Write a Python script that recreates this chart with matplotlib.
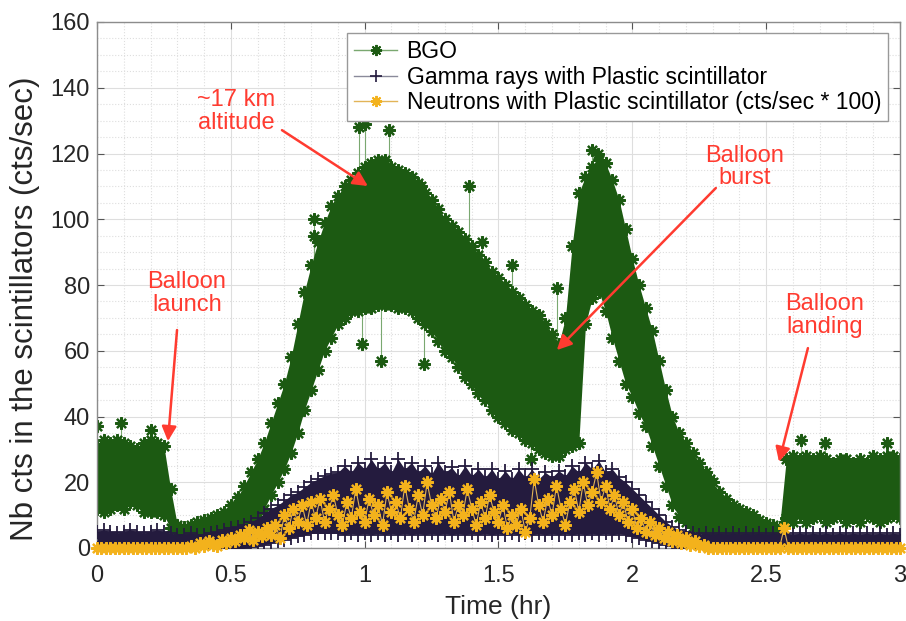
import numpy as np
import matplotlib
matplotlib.use("Agg")
import matplotlib.pyplot as plt
from matplotlib.lines import Line2D

plt.rcParams['font.family'] = ['Liberation Sans', 'DejaVu Sans']

# time grid of the envelopes (hr), one sample every 0.025 hr
t_env = np.round(np.arange(0, 3.0001, 0.025), 3)

# BGO: upper / lower edge of the point cloud (cts/sec)
bgo_hi = [31, 33, 32, 33, 32, 31, 30, 32, 33, 32, 31, 18,
          7, 6.5, 7, 8, 8.5, 9, 10, 11, 13, 15.5, 19, 23,
          27, 32, 38, 44, 50, 58, 68, 78, 86, 93, 99, 104,
          107, 110, 112, 114, 116, 117, 118, 118, 116, 115, 114, 113,
          111, 108, 106, 103, 100, 98, 96, 94, 92, 89, 87, 84,
          82, 80, 78, 76, 74, 72, 71, 68, 65, 62, 70, 92,
          108, 113, 116, 118, 117, 112, 106, 97, 88, 80, 73, 66,
          57, 48, 40, 35, 32, 29, 26, 23, 20, 17, 15, 13,
          12, 11, 10, 8.5, 7.5, 7, 6.5, 27, 28, 27, 28, 27,
          28, 27, 26, 27, 27, 26, 27, 26, 28, 27, 28, 28, 27]
bgo_lo = [12, 11, 12, 13, 12, 14, 13, 11, 11, 11, 10, 6,
          3.5, 3, 3, 3, 3, 3.5, 3.5, 4, 4.5, 5.5, 6.5, 8,
          9.5, 12, 16, 20, 24, 29, 35, 42, 48, 54, 60, 64,
          68, 70, 72, 72, 73, 73, 74, 74, 74, 73, 73, 72,
          70, 68, 66, 63, 60, 58, 55, 52, 50, 47, 45, 42,
          40, 38, 36, 35, 33, 32, 30, 29, 28, 28, 30, 31,
          32, 68, 76, 78, 72, 64, 57, 50, 46, 41, 37, 31,
          25, 19, 13, 9.5, 8, 6.5, 5.5, 5, 4.5, 4.5, 4, 4,
          4, 4, 3.5, 3.5, 3.5, 3.5, 3.5, 9, 8, 10, 8, 9,
          10, 8, 9, 10, 8, 9, 8, 10, 9, 8, 9, 10, 9]

# isolated BGO points sticking out of the cloud
spike_t = [0.0, 0.09, 0.2, 0.81, 0.81, 0.98, 1.0, 1.09, 1.21, 1.39, 1.44, 1.55,
           1.72, 1.85, 1.87, 0.99, 1.06, 1.22, 1.62, 2.63, 2.72, 2.95, 2.29]
spike_y = [37, 38, 36, 100, 95, 128, 129, 127, 110, 110, 93, 86,
           79, 121, 120, 62, 57, 56, 27, 33, 32, 32, 21]
spike_base = [31, 33, 33, 86, 86, 114, 116, 117, 111, 92, 87, 78,
              62, 116, 117, 72, 74, 70, 33, 27, 28, 27, 20]

# Gamma rays with plastic scintillator: upper / lower edge of the cloud
gam_hi = [5, 5.5, 5, 4.5, 5, 5.5, 5, 4.5, 5, 5.5, 5, 4.5,
          4, 4, 4.5, 4, 4, 4.5, 5, 5.5, 6, 6.5, 7, 8,
          9, 10.5, 12, 13, 14.5, 16, 17, 18.5, 20, 21, 22, 22.5,
          23, 25, 23, 26, 24, 27, 24, 26, 23, 27, 24, 26,
          23, 25, 22.5, 26, 23, 24.5, 22, 25, 22, 24, 21.5, 24,
          21, 23.5, 21, 24, 21.5, 24, 21, 23, 21.5, 23.5, 22, 25,
          23, 26, 24, 26.5, 23, 24, 21.5, 20, 18, 16, 14, 12,
          10, 8, 6.5, 5.5, 5, 4.5, 4, 4.5, 4, 4.5, 4, 4.5,
          4, 4.5, 4, 4.5, 4, 4.5, 4, 4.5, 4, 4.5, 4, 4.5,
          4, 4.5, 4, 4.5, 4, 4.5, 4, 4.5, 4, 4.5, 4, 4.5, 4]
gam_lo = [0, 0, 0, 0, 0, 0, 0, 0, 0, 0, 0, 0,
          0, 0, 0, 0, 0, 0, 0, 0, 0, 0, 0, 0.3,
          0.5, 1, 1.5, 2, 2.5, 3, 3.5, 4, 4.5, 4.5, 4.5, 4.5,
          4.5, 4, 4.5, 4, 4.5, 4, 4.5, 4, 4.5, 4, 4.5, 4,
          4.5, 4, 4.5, 4, 4.5, 4, 4.5, 4, 4.5, 4, 4.5, 4,
          4.5, 4, 4.5, 4, 4.5, 4, 4.5, 4, 4.5, 4, 4.5, 4,
          4.5, 4, 4.5, 4, 4.5, 4, 4.5, 4, 3.5, 3, 2.5, 2,
          1.5, 1, 0.5, 0, 0, 0, 0, 0, 0, 0, 0, 0,
          0, 0, 0, 0, 0, 0, 0, 0, 0, 0, 0, 0,
          0, 0, 0, 0, 0, 0, 0, 0, 0, 0, 0, 0, 0]

# Neutrons with plastic scintillator (cts/sec * 100), one value per minute
neu_min = np.arange(0, 181)
neu_val = [0, 0, 0, 0, 0, 0, 0, 0, 0, 0, 0, 0, 0, 0, 0, 0, 0, 0, 0, 0, 0,
           0.5, 0, 1.5, 0.5, 2, 1, 0.5, 2.5, 1.5, 3,
           2, 4, 3, 5.5, 2.5, 5, 3.5, 6, 4, 7, 3, 10, 6, 12, 8, 13, 7, 14, 9, 15,
           8, 12, 16, 10, 7, 14, 9, 18, 11, 8, 15, 10, 13, 7, 17, 11, 14, 9, 19, 12,
           8, 16, 10, 20, 13, 9, 15, 11, 17, 8, 13, 10, 18, 12, 7, 14, 9, 16, 11, 8,
           13, 6, 10, 7, 12, 5, 9, 21, 13, 8, 15, 10, 19, 12, 7, 14, 18, 11, 20, 13,
           17, 23, 14, 19, 12, 16, 10, 14, 8, 12, 6, 9, 5, 8, 4, 6, 3, 5, 2, 4,
           1.5, 3, 1, 2, 0.5, 1, 0,
           0, 0, 0, 0, 0, 0, 0, 0, 0, 0, 0, 0, 0, 0, 0, 0,
           6,
           0, 0, 0, 0, 0, 0, 0, 0, 0, 0, 0, 0, 0, 0, 0, 0, 0, 0, 0, 0, 0, 0, 0, 0, 0, 0]
neu_t = neu_min / 60.0

green = '#1c5a12'
green_line = '#7aa870'
navy = '#241b3e'
navy_line = '#8a8a9a'
orange = '#f3b21c'
orange_line = '#e2b458'
red = '#ff3b30'
star = (8, 2, 0)  # asterisk marker

fig = plt.figure(figsize=(9.06, 6.21), dpi=100)
ax = fig.add_axes([97/906, 73/621, 803/906, 526/621])

# BGO cloud
ax.vlines(spike_t, spike_base, spike_y, color=green_line, lw=0.8, zorder=2)
ax.fill_between(t_env, bgo_lo, bgo_hi, color=green, lw=0, zorder=2)
for yy in (bgo_hi, bgo_lo):
    ax.plot(t_env, yy, ls='none', marker=star, ms=9, mew=1.6, color=green, zorder=2)
ax.plot(spike_t, spike_y, ls='none', marker=star, ms=9, mew=1.6, color=green, zorder=2)

# gamma cloud
ax.fill_between(t_env, gam_lo, gam_hi, color=navy, lw=0, zorder=3)
for yy in (gam_hi, gam_lo):
    ax.plot(t_env, yy, ls='none', marker='+', ms=10, mew=1.3, color=navy, zorder=3)

# neutrons
ax.plot(neu_t, neu_val, color=orange_line, lw=0.8, marker=star, ms=9, mew=1.6,
        mfc=orange, mec=orange, zorder=4, clip_on=False)

ax.set_xlim(0, 3)
ax.set_ylim(0, 160)
ax.set_xticks([0, 0.5, 1, 1.5, 2, 2.5, 3])
ax.set_xticklabels(['0', '0.5', '1', '1.5', '2', '2.5', '3'])
ax.set_yticks(range(0, 161, 20))
ax.set_xticks(np.arange(0, 3.01, 0.1), minor=True)
ax.set_yticks(range(0, 161, 5), minor=True)
ax.grid(which='major', color='#dedede', lw=0.8, ls='-', zorder=0)
ax.grid(which='minor', color='#dedede', lw=0.8, ls=':', zorder=0)
ax.set_axisbelow(True)
ax.tick_params(which='major', direction='in', length=5, width=0.8, color='#555555',
               top=True, right=True, labelsize=17, labelcolor='#262626')
ax.tick_params(axis='x', which='major', pad=12)
ax.tick_params(axis='y', which='major', pad=5)
ax.tick_params(which='minor', length=0, top=True, right=True)
for s in ax.spines.values():
    s.set_color('#8c8c8c')
    s.set_linewidth(1.0)

ax.set_xlabel('Time (hr)', fontsize=19, color='#262626', labelpad=6)
ax.set_ylabel('Nb cts in the scintillators (cts/sec)', fontsize=22.5, color='#262626')
ax.yaxis.set_label_coords(-0.071, 0.455)

# annotations
ann = [('~17 km\naltitude', (0.521, 132.9), (0.691, 127.1), (1.012, 110.1)),
       ('Balloon\nlaunch', (0.336, 77.3), (0.299, 66.3), (0.265, 32.5)),
       ('Balloon\nburst', (2.421, 115.9), (2.312, 109.5), (1.718, 60.2)),
       ('Balloon\nlanding', (2.72, 70.6), (2.656, 60.8), (2.548, 26.2))]
for txt, pos, tail, tip in ann:
    ax.text(pos[0], pos[1], txt, color=red, fontsize=17, ha='center', va='center',
            linespacing=1.05, zorder=6)
    ax.annotate('', xy=tip, xytext=tail,
                arrowprops=dict(arrowstyle='-|>', color=red, lw=1.8,
                                mutation_scale=22, shrinkA=0, shrinkB=0),
                zorder=6)

handles = [Line2D([], [], color=green_line, lw=1, marker=star, ms=8, mew=1.4,
                  mfc=green, mec=green),
           Line2D([], [], color=navy_line, lw=1, marker='+', ms=9, mew=1.2,
                  mfc=navy, mec=navy),
           Line2D([], [], color=orange_line, lw=1, marker=star, ms=8, mew=1.4,
                  mfc=orange, mec=orange)]
labels = ['BGO', 'Gamma rays with Plastic scintillator',
          'Neutrons with Plastic scintillator (cts/sec * 100)']
leg = ax.legend(handles, labels, loc='upper right', bbox_to_anchor=(0.985, 0.979),
                fontsize=16.5, fancybox=False, edgecolor='#999999', framealpha=1,
                borderpad=0.3, labelspacing=0.12, handlelength=1.9, handletextpad=0.4,
                borderaxespad=0)
leg.get_frame().set_linewidth(1.0)
leg.set_zorder(7)

fig.savefig('out.png', dpi=100)
